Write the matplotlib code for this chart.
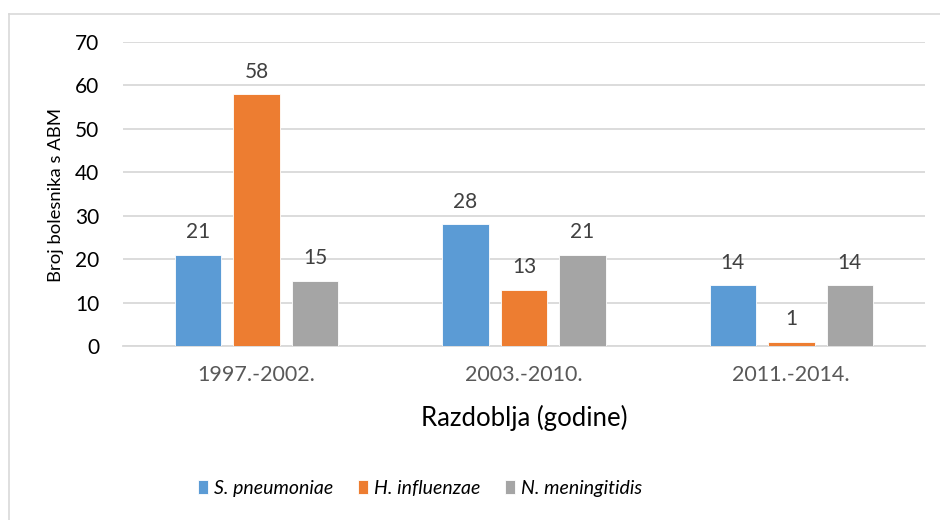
import numpy as np
import matplotlib.pyplot as plt
from matplotlib.lines import Line2D

plt.rcParams['font.family'] = ['Lato', 'DejaVu Sans']

# data
periods = ['1997.-2002.', '2003.-2010.', '2011.-2014.']
s_pneumoniae = [21, 28, 14]
h_influenzae = [58, 13, 1]
n_meningitidis = [15, 21, 14]
series_names = ['S. pneumoniae', 'H. influenzae', 'N. meningitidis']
colors = ['#5B9BD5', '#ED7D31', '#A5A5A5']

fig = plt.figure(figsize=(9.4, 5.2), dpi=100)
ax = fig.add_axes([0.1309, 0.3346, 0.8531, 0.5846])

x = np.arange(len(periods))
width = 0.174
step = 0.219
series = [s_pneumoniae, h_influenzae, n_meningitidis]
for i, (vals, name, c) in enumerate(zip(series, series_names, colors)):
    bars = ax.bar(x + (i - 1) * step, vals, width, color=c, label=name,
                  edgecolor='white', linewidth=0.6, zorder=3)
    for b, v in zip(bars, vals):
        ax.annotate(str(v), (b.get_x() + b.get_width() / 2, v),
                    xytext=(0, 9), textcoords='offset points',
                    ha='center', va='bottom', fontsize=15, color='#404040')

ax.set_xlim(-0.5, 2.5)
ax.set_ylim(0, 70)
ax.set_yticks(range(0, 71, 10))
ax.set_xticks(x)
ax.set_xticklabels(periods, fontsize=15.5, color='#595959')
ax.tick_params(axis='y', labelsize=15, colors='black', length=0, pad=17)
ax.tick_params(axis='x', length=0, pad=14)
ax.grid(axis='y', color='#D9D9D9', linewidth=1.3, zorder=0)
for s in ['top', 'right', 'left']:
    ax.spines[s].set_visible(False)
ax.spines['bottom'].set_color('#D9D9D9')
ax.spines['bottom'].set_linewidth(1.3)

ax.set_xlabel('Razdoblja (godine)', fontsize=18.5, labelpad=14)
fig.text(0.0595, 0.625, 'Broj bolesnika s ABM', rotation=90, fontsize=13.3,
         ha='center', va='center')

leg = fig.legend(loc='center', bbox_to_anchor=(0.447, 0.0615), ncol=3,
                 frameon=False, prop={'style': 'italic', 'size': 14},
                 handlelength=0.5, handleheight=0.75, columnspacing=1.3,
                 handletextpad=0.3)

# chart frame (only top and left edges are visible in the crop)
fig.add_artist(Line2D([8.5 / 940, 8.5 / 940], [0, 1 - 13.5 / 520],
                      transform=fig.transFigure, color='#D9D9D9', linewidth=1.2))
fig.add_artist(Line2D([8.5 / 940, 1], [1 - 13.5 / 520, 1 - 13.5 / 520],
                      transform=fig.transFigure, color='#D9D9D9', linewidth=1.2))

fig.savefig('out.png', dpi=100)
